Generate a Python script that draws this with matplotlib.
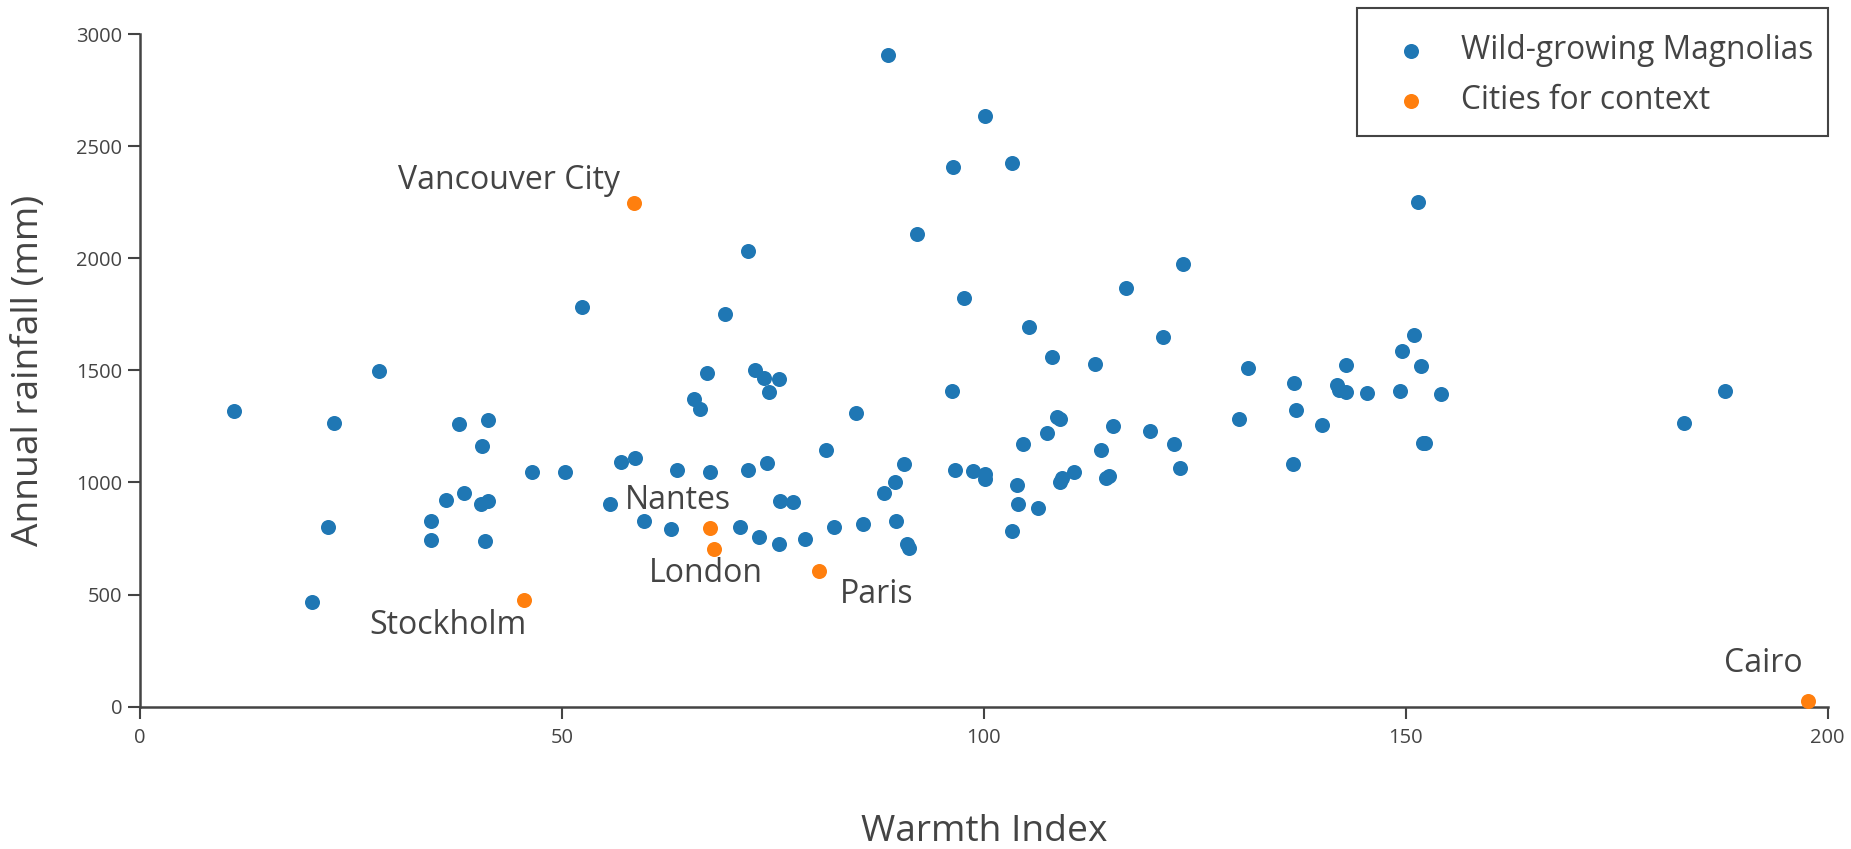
import matplotlib.pyplot as plt
from matplotlib.patches import Rectangle

# wild-growing magnolias: warmth index vs annual rainfall (mm)
magnolia_x = [11.2, 20.4, 22.3, 23.0, 28.3, 34.5, 34.5, 36.3, 37.8, 38.4,
              40.4, 40.5, 40.9, 41.3, 41.3, 46.5, 50.4, 52.4, 55.7, 57.0,
              58.7, 59.7, 62.9, 63.6, 65.7, 66.4, 67.2, 67.5, 69.3, 71.1,
              72.0, 72.1, 72.9, 73.4, 73.9, 74.3, 74.5, 75.7, 75.7, 75.9,
              77.4, 78.8, 81.3, 82.3, 84.8, 85.7, 88.2, 88.6, 89.5, 89.6,
              90.6, 90.9, 91.1, 92.1, 96.2, 96.4, 96.6, 97.6, 98.7, 100.1,
              100.1, 100.1, 103.3, 103.4, 103.9, 104.0, 104.7, 105.4, 106.4, 107.5,
              108.1, 108.7, 109.0, 109.0, 109.3, 110.7, 113.2, 113.9, 114.5, 114.8,
              115.3, 116.9, 119.7, 121.2, 122.5, 123.3, 123.6, 130.2, 131.3, 136.6,
              136.8, 137.0, 140.1, 141.9, 142.1, 142.9, 142.9, 145.4, 149.3, 149.6,
              151.0, 151.4, 151.8, 152.0, 152.3, 154.2, 183.0, 187.8]
magnolia_y = [1319, 466, 803, 1266, 1498, 829, 745, 924, 1261, 951,
              903, 1161, 740, 919, 1277, 1045, 1045, 1783, 903, 1093,
              1109, 829, 793, 1056, 1372, 1330, 1488, 1045, 1751, 803,
              2035, 1056, 1503, 756, 1467, 1088, 1404, 1461, 724, 919,
              914, 750, 1145, 803, 1308, 814, 951, 2909, 1003, 829,
              1082, 724, 708, 2109, 1409, 2409, 1056, 1824, 1050, 1014,
              1040, 2635, 782, 2425, 987, 903, 1171, 1693, 887, 1219,
              1561, 1293, 1282, 1003, 1019, 1045, 1530, 1145, 1019, 1029,
              1251, 1867, 1230, 1651, 1171, 1066, 1977, 1282, 1509, 1082,
              1446, 1325, 1256, 1435, 1414, 1404, 1525, 1398, 1409, 1588,
              1656, 2251, 1519, 1177, 1177, 1393, 1266, 1409]

city_names = ['Vancouver City', 'Stockholm', 'Nantes', 'London', 'Paris', 'Cairo']
city_x = [58.6, 45.5, 67.5, 68.0, 80.5, 197.7]
city_y = [2246, 476, 798, 704, 607, 25]

# label placement: (ha, dx pt, dy pt)
label_pos = [('right', -10.5, 16.3), ('right', 1.9, -18.4), ('right', 15.8, 19.4),
             ('center', -5.5, -17.6), ('left', 14.8, -17.0), ('right', -4.3, 27.3)]

grey = '#444444'
plt.rcParams['font.family'] = ['Open Sans', 'DejaVu Sans']

W, H = 1851, 849
fig = plt.figure(figsize=(W / 100, H / 100), dpi=100)
ax = fig.add_axes([0.0756, 0.1677, 0.9118, 0.792])

ax.scatter(magnolia_x, magnolia_y, s=117, color='#1f77b4', linewidths=0,
           label='Wild-growing Magnolias', clip_on=False, zorder=3)
ax.scatter(city_x, city_y, s=117, color='#ff7f0e', linewidths=0,
           label='Cities for context', clip_on=False, zorder=3)

for name, x, y, (ha, dx, dy) in zip(city_names, city_x, city_y, label_pos):
    ax.annotate(name, (x, y), xytext=(dx, dy), textcoords='offset points',
                ha=ha, va='center', fontsize=23, color=grey)

ax.set_xlim(0, 200)
ax.set_ylim(0, 3000)
ax.set_xticks([0, 50, 100, 150, 200])
ax.set_yticks(range(0, 3001, 500))

for side in ['top', 'right']:
    ax.spines[side].set_visible(False)
for side in ['left', 'bottom']:
    ax.spines[side].set_color(grey)
    ax.spines[side].set_linewidth(1.8)

ax.tick_params(axis='both', direction='out', length=8.6, width=1.5, color=grey,
               labelcolor=grey, labelsize=14.5)
ax.tick_params(axis='x', pad=7)
ax.tick_params(axis='y', pad=4.3)

ax.set_xlabel('Warmth Index', fontsize=26.7, color=grey)
ax.set_ylabel('Annual rainfall (mm)', fontsize=26.7, color=grey)
ax.xaxis.label.set_va('center')
ax.yaxis.label.set_va('center')
ax.xaxis.set_label_coords(0.5, -0.186)
ax.yaxis.set_label_coords(-0.0655, 0.5)

# legend entries without frame, box drawn separately
leg = ax.legend(loc='upper left', bbox_to_anchor=(1395 / W, 1 - 34 / H),
                bbox_transform=fig.transFigure, borderaxespad=0, borderpad=0,
                fontsize=22.75, frameon=False, handlelength=1.0,
                handletextpad=1.08, labelspacing=0.54)
for t in leg.get_texts():
    t.set_color(grey)

fig.add_artist(Rectangle((1357.3 / W, 1 - 135.7 / H), 470.4 / W, 127.4 / H,
                         transform=fig.transFigure, facecolor='none',
                         edgecolor=grey, linewidth=1.5))

fig.savefig('out.png', dpi=100)
